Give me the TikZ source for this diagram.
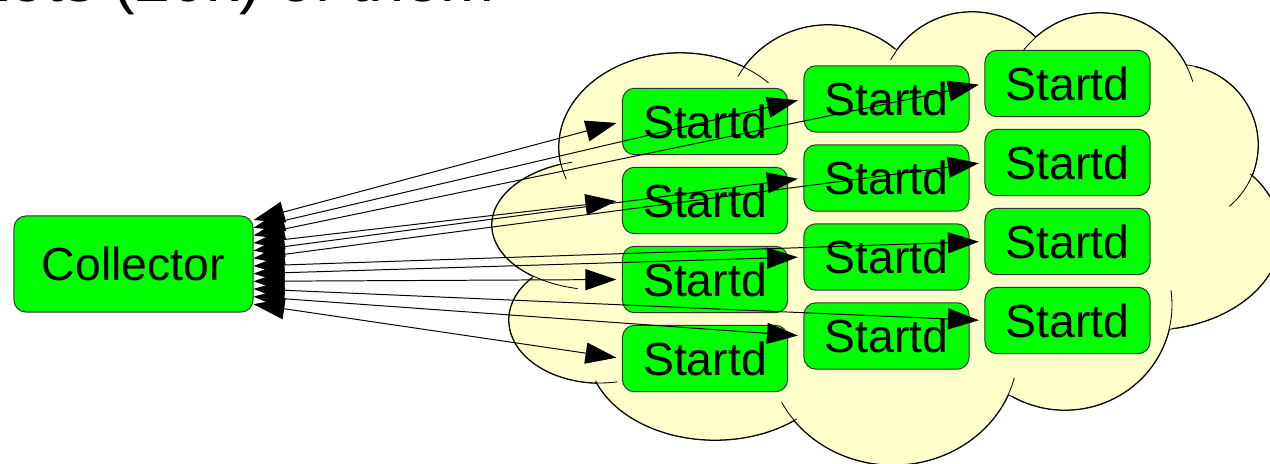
\documentclass[tikz,border=0pt]{standalone}
\usepackage{fontspec}
\setmainfont{Liberation Sans}
\usetikzlibrary{arrows.meta,positioning,calc}
\definecolor{boxgreen}{RGB}{0,255,0}
\definecolor{cloudyellow}{RGB}{255,255,204}
\tikzstyle{block} = [rectangle, draw=black!80, line width=0.7pt, fill=boxgreen,
    rounded corners=0.3cm, minimum height=1.66cm, inner sep=0pt,
    font=\fontsize{33}{40}\selectfont]
\tikzstyle{startd} = [block, minimum width=4.125cm]
\tikzstyle{link} = [draw, line width=0.7pt, >={Triangle[length=22pt,width=15pt]}, <->,
    shorten >=4pt]
\tikzstyle{title} = [font=\fontsize{46}{55}\selectfont, inner sep=0pt]

\begin{document}
\begin{tikzpicture}[x=0.025cm, y=-0.025cm]
    \clip (0,0) rectangle (1270,464);

    % Cloud lobes: centre, radii, visible arc
    \def\lobes{680/147/121/94/160/317, 600/225/108/65/255/102,
        600/320/91/63/222/79, 715/350/127/90/160/50,
        893/350/125/115/153/14, 1065/305/107/105/120/-8,
        1149/235/132/95/80/-40, 1178/145/80/80/-78/50,
        1100/110/97/97/218/343, 972/105/93/93/209/313,
        828/128/104/103/210/310}
    \foreach \cx/\cy/\rx/\ry/\sa/\ea in \lobes
        \draw [line width=1.2pt] (\cx,\cy) ellipse [x radius=\rx, y radius=\ry];
    \foreach \cx/\cy/\rx/\ry/\sa/\ea in \lobes
        \fill [cloudyellow] (\cx,\cy) ellipse [x radius=\rx, y radius=\ry];
    % middle of the cloud
    \fill [cloudyellow] (680,147) -- (600,225) -- (600,320) -- (715,350) -- (893,350)
        -- (1065,305) -- (1149,235) -- (1178,145) -- (1100,110) -- (972,105)
        -- (828,128) -- cycle;
    \foreach \cx/\cy/\rx/\ry/\sa/\ea in \lobes
        \draw [line width=0.6pt] (\cx,\cy) ++({\sa}:{\rx} and {\ry})
            arc [start angle=\sa, end angle=\ea, x radius=\rx, y radius=\ry];

    % Heading, cut by the page edge
    \node [title, anchor=base west] (head) at (-27,1.5) {Lots (20k) of them};

    % Place collector and startds
    \node [block, minimum width=5.975cm, minimum height=2.4cm] (coll) at (133.5,264) {Collector};

    \node [startd] (sd11) at (705,121.5) {Startd};
    \node [startd, below=0.29cm of sd11] (sd12) {Startd};
    \node [startd, below=0.29cm of sd12] (sd13) {Startd};
    \node [startd, below=0.29cm of sd13] (sd14) {Startd};

    \node [startd] (sd21) at (886.5,99) {Startd};
    \node [startd, below=0.29cm of sd21] (sd22) {Startd};
    \node [startd, below=0.29cm of sd22] (sd23) {Startd};
    \node [startd, below=0.29cm of sd23] (sd24) {Startd};

    \node [startd] (sd31) at (1067.5,83.5) {Startd};
    \node [startd, below=0.29cm of sd31] (sd32) {Startd};
    \node [startd, below=0.29cm of sd32] (sd33) {Startd};
    \node [startd, below=0.29cm of sd33] (sd34) {Startd};

    % Ports along the collector's right side
    \foreach \i in {1,...,12}
        \coordinate (p\i) at ($(coll.north east)+(0,{4.6+7.65*(\i-1)})$);

    % Draw edges
    \path [link] (p1) -- (sd11.west);
    \path [link] (p2) -- (sd21.west);
    \path [link] (p3) -- (sd31.west);
    \path [link] (p4) -- (sd12.west);
    \path [link] (p5) -- (sd22.west);
    \path [link] (p6) -- (sd32.west);
    \path [link] (p7) -- (sd33.west);
    \path [link] (p8) -- (sd23.west);
    \path [link] (p9) -- (sd13.west);
    \path [link] (p10) -- (sd34.west);
    \path [link] (p11) -- (sd24.west);
    \path [link] (p12) -- (sd14.west);

\end{tikzpicture}
\end{document}
